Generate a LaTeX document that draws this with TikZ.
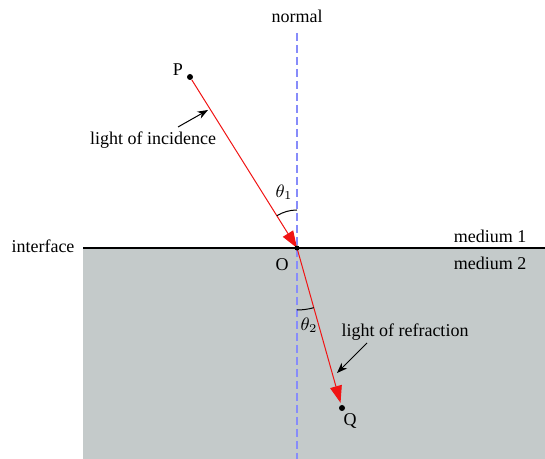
\documentclass[tikz,border=0pt]{standalone}
\usepackage{fontspec}
\setmainfont{Liberation Serif}
\usepackage{tikz}
\usetikzlibrary{arrows.meta,positioning,calc}
\definecolor{mediumgrey}{RGB}{196,202,202}
\definecolor{normalblue}{RGB}{135,140,250}
\definecolor{rayred}{RGB}{240,20,20}

\begin{document}
\begin{tikzpicture}[
    x=0.5pt, y=0.5pt,
    lbl/.style={font=\fontsize{9}{10}\selectfont, inner sep=0pt},
    ray/.style={draw=rayred, line width=0.5pt, -{Triangle[length=8.5pt,width=6pt,fill=rayred]}},
    pointer/.style={-Stealth, line width=0.5pt},
    angmark/.style={line width=0.5pt},
    dot/.style={circle, fill=black, inner sep=0pt, minimum size=3pt}
]
\useasboundingbox (0,0) rectangle (545,459);
\fill[mediumgrey] (83,0) rectangle (545,211);

\coordinate (O) at (297,211);
\coordinate (L) at (83,211);
\coordinate (R) at (545,211);
\coordinate (Ntop) at (297,426);
\coordinate (Nbot) at (297,0);
\node[dot] (P) at (190,382) {};
\node[dot] (Q) at (342,51) {};

\draw[normalblue, line width=0.8pt, dash pattern=on 4pt off 2pt] (Ntop) -- (Nbot);
\draw[line width=1pt] (L) -- (R);

% rays
\draw[ray] (P) -- (O);
\draw[ray, shorten >=1pt] (O) -- (Q);
\node[circle, fill=black, inner sep=0pt, minimum size=2.5pt] at (O) {};

% angles
\draw[angmark] (O) ++(90:38) arc[start angle=90, end angle=122, radius=38];
\draw[angmark] (O) ++(270:62) arc[start angle=270, end angle=285.7, radius=62];

% labels
\node[lbl] (normal) at (297,443) {normal};
\node[lbl] (interface) at (43,213) {interface};
\node[lbl] (medA) at (490,223) {medium 1};
\node[lbl] (medB) at (490,196) {medium 2};
\node[lbl] (Olbl) at (282,194) {O};
\node[lbl] (Plbl) at (178,389) {P};
\node[lbl] (Qlbl) at (350,38) {Q};
\node[lbl] (t1) at (284,267) {$\theta_1$};
\node[lbl] (t2) at (309,134) {$\theta_2$};
\node[lbl] (inc) at (153,319) {light of incidence};
\node[lbl] (refr) at (405,127) {light of refraction};

\coordinate (incA) at (178,332);
\coordinate (incB) at (208,349);
\coordinate (refA) at (367,116);
\coordinate (refB) at (337,86);
\draw[pointer] (incA) -- (incB);
\draw[pointer] (refA) -- (refB);
\end{tikzpicture}
\end{document}
